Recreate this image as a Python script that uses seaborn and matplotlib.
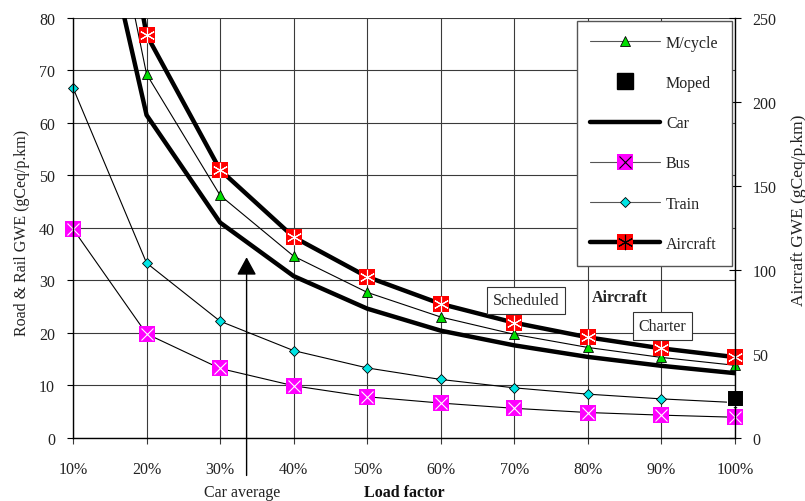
import matplotlib
matplotlib.use("Agg")
import matplotlib.pyplot as plt
import seaborn as sns
import numpy as np
from matplotlib.lines import Line2D

# ---------------- data ----------------
load_factor = [10, 20, 30, 40, 50, 60, 70, 80, 90, 100]
x_tick_labels = ["10%", "20%", "30%", "40%", "50%", "60%", "70%", "80%", "90%", "100%"]

mcycle = [138.0, 69.3, 46.2, 34.6, 27.7, 23.0, 19.7, 17.2, 15.3, 13.8]
car = [123.0, 61.5, 41.0, 30.8, 24.6, 20.4, 17.6, 15.4, 13.7, 12.3]
bus = [39.8, 19.8, 13.2, 9.9, 7.8, 6.6, 5.6, 4.8, 4.3, 3.9]
train = [66.7, 33.3, 22.2, 16.6, 13.3, 11.1, 9.5, 8.3, 7.4, 6.7]
aircraft = [480.0, 240.0, 159.5, 119.5, 95.8, 79.7, 68.5, 59.8, 53.2, 48.0]  # right axis
moped_x = [100]
moped = [7.6]

car_average_lf = 33.6

# ---------------- style ----------------
sns.set_style("white")
plt.rcParams["font.family"] = ["Liberation Serif", "DejaVu Serif"]
plt.rcParams["font.size"] = 11.5

fig = plt.figure(figsize=(8.05, 5.02), dpi=100)
ax = fig.add_axes([73 / 805, 1 - 438.7 / 502, 662 / 805, 419.7 / 502])
ax2 = ax.twinx()

thin = 0.8
thick = 3.2

# ---- left axis series: lines (clipped) ----
for vals, lw in [(mcycle, thin), (car, thick), (bus, thin), (train, thin)]:
    sns.lineplot(x=load_factor, y=vals, ax=ax, color="black", lw=lw, legend=False)

vis = list(range(1, 10))
# markers (not clipped, only in-range points)
sns.lineplot(x=load_factor, y=mcycle, ax=ax, linestyle="", marker="^", markersize=7,
             markerfacecolor="#00dd00", markeredgecolor="black", markeredgewidth=0.6,
             markevery=vis, clip_on=False, legend=False)
sns.lineplot(x=load_factor, y=bus, ax=ax, linestyle="", marker="s", markersize=11,
             markerfacecolor="#ff00ff", markeredgecolor="#ff00ff", markeredgewidth=0,
             clip_on=False, legend=False)
sns.lineplot(x=load_factor, y=bus, ax=ax, linestyle="", marker="x", markersize=9,
             color="black", markeredgewidth=0.8, clip_on=False, legend=False)
sns.lineplot(x=load_factor, y=train, ax=ax, linestyle="", marker="D", markersize=5.5,
             markerfacecolor="#00e5e5", markeredgecolor="black", markeredgewidth=0.6,
             clip_on=False, legend=False)
sns.lineplot(x=moped_x, y=moped, ax=ax, linestyle="", marker="s", markersize=11,
             color="black", clip_on=False, legend=False)

# ---- right axis: aircraft ----
sns.lineplot(x=load_factor, y=aircraft, ax=ax2, color="black", lw=thick, legend=False)
sns.lineplot(x=load_factor, y=aircraft, ax=ax2, linestyle="", marker="s", markersize=11,
             markerfacecolor="#ff0000", markeredgecolor="#ff0000", markeredgewidth=0,
             markevery=vis, clip_on=False, legend=False)
sns.lineplot(x=load_factor, y=aircraft, ax=ax2, linestyle="", marker=(6, 2, 0), markersize=11,
             color="black", markeredgewidth=0.8, markevery=vis, clip_on=False, legend=False)

# ---------------- axes ----------------
ax.set_xlim(10, 100)
ax.set_ylim(0, 80)
ax2.set_ylim(0, 250)
ax.set_xticks(load_factor)
ax.set_xticklabels(x_tick_labels)
ax.set_yticks(np.arange(0, 81, 10))
ax2.set_yticks(np.arange(0, 251, 50))

ax.grid(True, color="#3a3a3a", lw=0.8)
ax2.grid(False)
for a in (ax, ax2):
    for s in a.spines.values():
        s.set_visible(False)
ax.spines["left"].set_visible(True)
ax.spines["bottom"].set_visible(True)
ax2.spines["right"].set_visible(True)
for s in (ax.spines["left"], ax.spines["bottom"], ax2.spines["right"]):
    s.set_color("black")
    s.set_linewidth(1.0)

ax.tick_params(axis="y", direction="out", length=4.5, width=0.8, pad=8.5, colors="black",
               labelcolor="#222222", left=True)
ax.tick_params(axis="x", direction="out", length=4.5, width=0.8, pad=12, colors="#3a3a3a",
               labelcolor="#222222", bottom=True)
ax2.tick_params(axis="y", direction="inout", length=9, width=0.8, pad=8, colors="black",
                labelcolor="#222222", right=True)

ax.set_ylabel("Road & Rail GWE (gCeq/p.km)", fontsize=11.5, color="#222222",
              va="center", ha="center")
ax.yaxis.set_label_coords(-0.077, 0.49)
ax2.set_ylabel("Aircraft GWE (gCeq/p.km)", fontsize=12.5, color="#222222",
               va="center", ha="center", rotation=90)
ax2.yaxis.set_label_coords(1.096, 0.545)
ax.set_xlabel("")
ax2.set_xlabel("")

# ---------------- annotations ----------------
box = dict(boxstyle="square,pad=0.35", facecolor="white", edgecolor="#333333", lw=0.8)
ax2.text(71.6, 26.2 * 3.125, "Scheduled", ha="center", va="center", fontsize=11.5, bbox=box, zorder=5)
ax2.text(90.1, 21.3 * 3.125, "Charter", ha="center", va="center", fontsize=11.5, bbox=box, zorder=5)
ax2.text(84.4, 26.9 * 3.125, "Aircraft", ha="center", va="center", fontsize=11.5,
         fontweight="bold", zorder=5)

ax2.annotate("", xy=(car_average_lf, 34.4 * 3.125), xytext=(car_average_lf, -7.2 * 3.125),
             arrowprops=dict(arrowstyle="-|>,head_length=0.55,head_width=0.3", mutation_scale=20,
                             color="black", lw=1.0, shrinkA=0, shrinkB=0),
             annotation_clip=False)

fig.text(241.7 / 805, 1 - 493 / 502, "Car average", ha="center", va="center", fontsize=11.5, color="#222222")
fig.text(404 / 805, 1 - 493 / 502, "Load factor", ha="center", va="center", fontsize=11.5,
         fontweight="bold", color="#111111")

# ---------------- legend ----------------
h_mc = Line2D([], [], color="#555555", lw=thin, marker="^", markersize=7,
              markerfacecolor="#00dd00", markeredgecolor="black", markeredgewidth=0.6)
h_mo = Line2D([], [], linestyle="", marker="s", markersize=11, color="black")
h_car = Line2D([], [], color="black", lw=thick)
h_bus = (Line2D([], [], color="#555555", lw=thin, marker="s", markersize=11,
                markerfacecolor="#ff00ff", markeredgewidth=0),
         Line2D([], [], linestyle="", marker="x", markersize=9, color="black", markeredgewidth=0.8))
h_tr = Line2D([], [], color="#555555", lw=thin, marker="D", markersize=5.5,
              markerfacecolor="#00e5e5", markeredgecolor="black", markeredgewidth=0.6)
h_air = (Line2D([], [], color="black", lw=thick, marker="s", markersize=11,
                markerfacecolor="#ff0000", markeredgewidth=0),
         Line2D([], [], linestyle="", marker=(6, 2, 0), markersize=11, color="black", markeredgewidth=0.8))
leg = ax2.legend([h_mc, h_mo, h_car, h_bus, h_tr, h_air],
                 ["M/cycle", "Moped", "Car", "Bus", "Train", "Aircraft"],
                 loc="upper right", bbox_to_anchor=(0.9955, 0.9928), bbox_transform=ax.transAxes,
                 borderaxespad=0, frameon=True, fancybox=False, framealpha=1,
                 edgecolor="#555555", fontsize=11.5, labelspacing=1.52, handlelength=4.4,
                 handletextpad=0.35, borderpad=0.85, numpoints=1)
leg.get_frame().set_linewidth(1.0)
for t in leg.get_texts():
    t.set_color("#222222")
leg.set_zorder(10)

fig.savefig("out.png", dpi=100)
